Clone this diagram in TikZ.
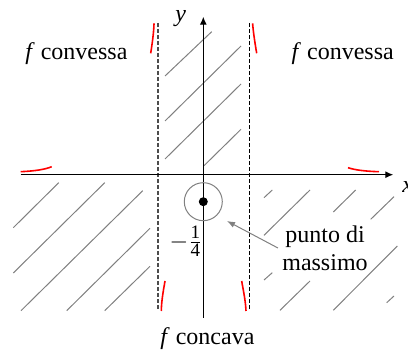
\documentclass[tikz,border=0pt]{standalone}
\usepackage{amsmath}
\usepackage{fontspec}
\setmainfont{Liberation Serif}
\usetikzlibrary{arrows.meta}

\newcommand{\piccolo}[1]{\text{\fontsize{9.5}{10}\selectfont #1}}

\begin{document}
\begin{tikzpicture}[x=0.5pt,y=-0.5pt,font=\fontsize{12}{14.2}\selectfont]
\tikzset{hatch/.style={gray,line width=0.5pt},
  asym/.style={dash pattern=on 2pt off 1pt,line width=0.55pt},
  graph/.style={red,line width=0.8pt},
  axis/.style={line width=0.6pt,-{Latex[length=4pt,width=3.5pt]}},
  txt/.style={inner sep=0pt,anchor=base west}}
\useasboundingbox (0,0) rectangle (408,352);
% zone tratteggiate
\foreach \xa/\ya/\xb/\yb in {165/76/211.7/31.7, 165/121/241/46, 165/159/241/84, 204/165.7/241/129.3,
  13.3/227.7/58.7/182.7, 13.3/273/104.7/182.7, 21/310.7/142.7/190.7, 66.7/310.7/150/228.3, 104.7/310.7/150/266.3,
  264/197.7/272.3/190, 264/235.3/310/190, 333.3/212/355.7/190, 370.7/219.3/394/196.7,
  264/280/272.3/272.7, 280/310.3/310/281, 333.3/310.3/397.3/246, 386.7/302.7/394/296}
  \draw[hatch] (\xa,\ya)--(\xb,\yb);
% asintoti
\draw[asym,black!70,line width=0.65pt] (158,23)--(158,310);
\draw[asym,line width=0.45pt] (249,23)--(249,310);
% assi
\draw[axis] (20.7,174.7)--(393.3,174.7);
\draw[axis] (203.3,318)--(203.3,16.7);
\node[txt] (ylab) at (175,22) {\textit{y}};
\node[txt] (xlab) at (402,193) {\textit{x}};
% grafico
\draw[graph] (150.7,53.3) .. controls (152.8,40) and (153.9,30) .. (154,23.3);
\draw[graph] (256.7,53.3) .. controls (254.4,40) and (253.1,30) .. (252.6,23.3);
\draw[graph] (165,281) .. controls (163.5,290) and (161.5,300) .. (161.3,311);
\draw[graph] (241.7,281) .. controls (243.2,290) and (245.5,300) .. (246,311);
\draw[graph] (20.7,171.7) .. controls (35,171) and (45,169.5) .. (51.7,166.7);
\draw[graph] (348,167.7) .. controls (355,170) and (365,171.3) .. (379,171.7);
% massimo
\node[circle,draw=gray,line width=0.5pt,minimum size=19pt] (max) at (203.3,201.7) {};
\node[circle,fill,inner sep=0pt,minimum size=4.5pt] (pt) at (max) {};
\node[inner sep=0pt] (quarto) at (186,241.5) {$-\frac{\piccolo{1}}{\piccolo{4}}$};
\node[align=center,inner sep=2pt] (lbl) at (325,248) {punto di\\massimo};
\coordinate (tip) at (227,221);
\draw[gray,line width=0.5pt,-{Latex[length=4pt,width=3pt]}] (lbl.west) -- (tip);
% etichette
\node[txt] (cvx1) at (25,59.3) {\textit{f} convessa};
\node[txt] (cvx2) at (291.3,59.3) {\textit{f} convessa};
\node[txt] (ccv) at (160,345) {\textit{f} concava};
\end{tikzpicture}
\end{document}
